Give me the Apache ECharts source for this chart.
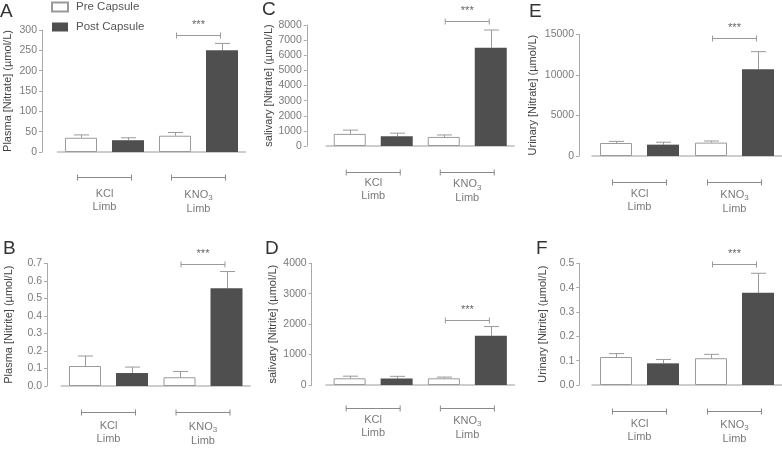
<!DOCTYPE html>
<html><head><meta charset="utf-8">
<script src="https://cdn.jsdelivr.net/npm/echarts@6/dist/echarts.min.js"></script>
<style>html,body{margin:0;padding:0;background:#fff}#c{width:782px;height:449px}</style>
</head><body><div id="c"></div>
<script>
// ---------------- DATA ----------------
const categories = ['KCl', 'KNO3'];
const seriesNames = ['Pre Capsule', 'Post Capsule'];
const panelLetters = ['A', 'B', 'C', 'D', 'E', 'F'];
const yTitles = [
  'Plasma [Nitrate] (\u00b5mol/L)',
  'Plasma [Nitrite] (\u00b5mol/L)',
  'salivary [Nitrate] (\u00b5mol/L)',
  'salivary [Nitrite] (\u00b5mol/L)',
  'Urinary [Nitrate] (\u00b5mol/L)',
  'Urinary [Nitrite] (\u00b5mol/L)'
];
const yMaxes = [300, 0.7, 8000, 4000, 15000, 0.5];
const yIntervals = [50, 0.1, 1000, 1000, 5000, 0.1];
const yDecimals = [0, 1, 0, 0, 0, 1];

// A: Plasma nitrate
const plasmaNitratePre = [35, 40];
const plasmaNitratePreSem = [7, 8];
const plasmaNitratePost = [29, 250];
const plasmaNitratePostSem = [6, 17];
// B: Plasma nitrite
const plasmaNitritePre = [0.114, 0.050];
const plasmaNitritePreSem = [0.057, 0.033];
const plasmaNitritePost = [0.074, 0.557];
const plasmaNitritePostSem = [0.034, 0.096];
// C: Salivary nitrate
const salivaryNitratePre = [800, 600];
const salivaryNitratePreSem = [250, 130];
const salivaryNitratePost = [650, 6500];
const salivaryNitratePostSem = [200, 1170];
// D: Salivary nitrite
const salivaryNitritePre = [220, 220];
const salivaryNitritePreSem = [70, 40];
const salivaryNitritePost = [210, 1620];
const salivaryNitritePostSem = [75, 300];
// E: Urinary nitrate
const urinaryNitratePre = [1600, 1650];
const urinaryNitratePreSem = [200, 200];
const urinaryNitratePost = [1400, 10700];
const urinaryNitratePostSem = [300, 2160];
// F: Urinary nitrite
const urinaryNitritePre = [0.115, 0.110];
const urinaryNitritePreSem = [0.014, 0.016];
const urinaryNitritePost = [0.089, 0.379];
const urinaryNitritePostSem = [0.016, 0.080];

const sigLabel = '***';
const sigLevels = [288, 0.698, 8280, 2140, 14580, 0.499];

// ---------------- LAYOUT ----------------
const panels = [
  {pre: plasmaNitratePre, preSem: plasmaNitratePreSem, post: plasmaNitratePost, postSem: plasmaNitratePostSem,
   left: 57.5, width: 188, top: 30, height: 122, yOff: 15.5, xOff: 12, brk: 12.7, lbl: 23, gap: 29, lx: 0, ly: 2},
  {pre: plasmaNitritePre, preSem: plasmaNitritePreSem, post: plasmaNitritePost, postSem: plasmaNitritePostSem,
   left: 61.25, width: 189, top: 263.3, height: 122.7, yOff: 14.25, xOff: 14, brk: 12.3, lbl: 19, gap: 33, lx: 3, ly: 239},
  {pre: salivaryNitratePre, preSem: salivaryNitratePreSem, post: salivaryNitratePost, postSem: salivaryNitratePostSem,
   left: 326.25, width: 188, top: 25, height: 121, yOff: 19.5, xOff: 14.7, brk: 11, lbl: 16, gap: 31, lx: 262, ly: 0},
  {pre: salivaryNitritePre, preSem: salivaryNitritePreSem, post: salivaryNitritePost, postSem: salivaryNitritePostSem,
   left: 326, width: 188.5, top: 263.3, height: 121.7, yOff: 14.3, xOff: 14, brk: 8.7, lbl: 14, gap: 33, lx: 265, ly: 239},
  {pre: urinaryNitratePre, preSem: urinaryNitratePreSem, post: urinaryNitratePost, postSem: urinaryNitratePostSem,
   left: 592, width: 190, top: 34.3, height: 121.7, yOff: 13, xOff: 14, brk: 11.7, lbl: 17, gap: 41, lx: 529, ly: 2},
  {pre: urinaryNitritePre, preSem: urinaryNitritePreSem, post: urinaryNitritePost, postSem: urinaryNitritePostSem,
   left: 592, width: 190, top: 263.3, height: 121.7, yOff: 12.7, xOff: 14, brk: 12.3, lbl: 18, gap: 31, lx: 536, ly: 239}
];

const FONT = '"Liberation Sans", Arial, Helvetica, sans-serif';
const NARROW = '"Liberation Sans Narrow", "Arial Narrow", "Liberation Sans", Arial, sans-serif';
const BAR_W = 32, BAR_GAP = 15, HALF = (BAR_W + BAR_GAP) / 2;
const DARK = '#4f4f4f', LINE = '#9a9a9a', AXIS = '#aaaaaa', TXT = '#7a7a7a';

const grids = [], xAxes = [], yAxes = [], series = [], titles = [];

panels.forEach((p, i) => {
  grids.push({left: p.left, top: p.top, width: p.width, height: p.height, outerBoundsMode: 'none'});
  titles.push({text: panelLetters[i], left: p.lx, top: p.ly, padding: 0,
    textStyle: {fontFamily: FONT, fontSize: 19, fontWeight: 'normal', color: '#333'}});
  xAxes.push({
    type: 'category', gridIndex: i, data: categories, offset: p.xOff,
    axisLine: {show: true, lineStyle: {color: '#bdbdbd', width: 1.5}},
    axisTick: {show: false},
    axisLabel: {
      margin: p.lbl, interval: 0,
      formatter: v => v === 'KNO3' ? '{t|KNO}{s|3}\n{t|Limb}' : '{t|' + v + '}\n{t|Limb}',
      rich: {
        t: {fontFamily: FONT, fontSize: 11, color: TXT, lineHeight: 13},
        s: {fontFamily: FONT, fontSize: 8, color: TXT, lineHeight: 15, verticalAlign: 'bottom'}
      }
    }
  });
  yAxes.push({
    type: 'value', gridIndex: i, min: 0, max: yMaxes[i], interval: yIntervals[i], offset: p.yOff,
    name: yTitles[i], nameLocation: 'middle', nameGap: p.gap,
    nameTextStyle: {fontFamily: FONT, fontSize: 11, color: '#444', fontWeight: 500},
    axisLine: {show: true, lineStyle: {color: AXIS, width: 1}},
    axisTick: {show: true, length: 3, lineStyle: {color: AXIS}},
    splitLine: {show: false},
    axisLabel: {fontFamily: NARROW, fontSize: 10.5, color: TXT, margin: 5,
      formatter: v => v.toFixed(yDecimals[i])}
  });
  // bars
  series.push({
    name: seriesNames[0], type: 'bar', xAxisIndex: i, yAxisIndex: i, data: p.pre,
    barWidth: BAR_W, barGap: (BAR_GAP / BAR_W * 100) + '%', z: 3,
    itemStyle: {color: '#ffffff', borderColor: LINE, borderWidth: 1}
  });
  series.push({
    name: seriesNames[1], type: 'bar', xAxisIndex: i, yAxisIndex: i, data: p.post,
    barWidth: BAR_W, barGap: (BAR_GAP / BAR_W * 100) + '%', z: 3,
    itemStyle: {color: DARK, borderWidth: 0}
  });
  // error bars
  [[p.pre, p.preSem, -1], [p.post, p.postSem, 1]].forEach(([m, s, side]) => {
    series.push({
      type: 'custom', xAxisIndex: i, yAxisIndex: i, z: 2, clip: false, silent: true,
      data: m.map((v, k) => [k, v, s[k]]),
      encode: {x: 0, y: 1},
      renderItem: (params, api) => {
        const c = api.value(0), mv = api.value(1), e = api.value(2);
        const p0 = api.coord([c, mv]), p1 = api.coord([c, mv + e]);
        const cx = Math.round(p0[0] + side * HALF) + 0.5;
        const st = {stroke: LINE, lineWidth: 1};
        return {type: 'group', children: [
          {type: 'line', shape: {x1: cx, y1: p0[1], x2: cx, y2: p1[1]}, style: st},
          {type: 'line', shape: {x1: cx - 7.5, y1: p1[1], x2: cx + 7.5, y2: p1[1]}, style: st}
        ]};
      }
    });
  });
  // group brackets under axis
  series.push({
    type: 'custom', xAxisIndex: i, yAxisIndex: i, z: 2, clip: false, silent: true,
    data: categories.map((c, k) => [k, 0]), encode: {x: 0, y: 1},
    renderItem: (params, api) => {
      const pt = api.coord([api.value(0), 0]);
      const y = Math.round(pt[1] + p.xOff + p.brk) + 0.5;
      const x1 = pt[0] - 27, x2 = pt[0] + 27;
      const st = {stroke: '#8a8a8a', lineWidth: 1};
      return {type: 'group', children: [
        {type: 'line', shape: {x1: x1, y1: y, x2: x2, y2: y}, style: st},
        {type: 'line', shape: {x1: x1, y1: y - 3, x2: x1, y2: y + 3}, style: st},
        {type: 'line', shape: {x1: x2, y1: y - 3, x2: x2, y2: y + 3}, style: st}
      ]};
    }
  });
  // significance bracket
  series.push({
    type: 'custom', xAxisIndex: i, yAxisIndex: i, z: 2, clip: false, silent: true,
    data: [[1, sigLevels[i]]], encode: {x: 0, y: 1},
    renderItem: (params, api) => {
      const pt = api.coord([api.value(0), api.value(1)]);
      const y = Math.round(pt[1]) + 0.5;
      const x1 = pt[0] - 22, x2 = pt[0] + 22;
      const st = {stroke: LINE, lineWidth: 1};
      return {type: 'group', children: [
        {type: 'line', shape: {x1: x1, y1: y, x2: x2, y2: y}, style: st},
        {type: 'line', shape: {x1: x1, y1: y - 3, x2: x1, y2: y + 3}, style: st},
        {type: 'line', shape: {x1: x2, y1: y - 3, x2: x2, y2: y + 3}, style: st},
        {type: 'text', style: {text: sigLabel, x: pt[0], y: y - 5, align: 'center', verticalAlign: 'bottom',
          fontFamily: FONT, fontSize: 11, fill: '#666'}}
      ]};
    }
  });
});

const chart = echarts.init(document.getElementById('c'), null, {renderer: 'canvas'});
chart.setOption({
  animation: false,
  backgroundColor: '#fff',
  title: titles,
  legend: {
    data: seriesNames, orient: 'vertical', left: 51, top: 1, padding: 0, itemWidth: 16, itemHeight: 9, itemGap: 8,
    icon: 'rect', selectedMode: false,
    textStyle: {fontFamily: FONT, fontSize: 11.5, color: '#555', padding: [0, 0, 0, 3]}
  },
  grid: grids, xAxis: xAxes, yAxis: yAxes, series: series
});
</script>
</body></html>
